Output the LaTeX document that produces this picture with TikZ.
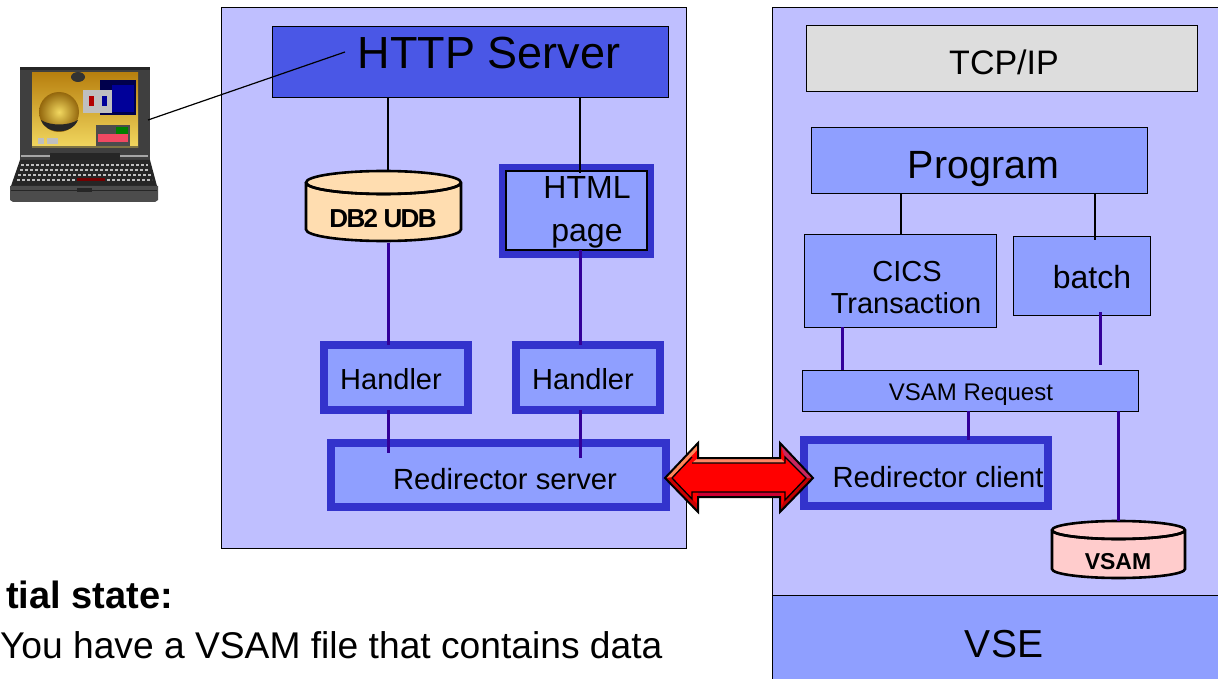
\documentclass[tikz,border=0pt]{standalone}
\usepackage{fontspec}
\usetikzlibrary{calc}
\setmainfont{Liberation Sans}
\definecolor{panel}{HTML}{BFBFFF}
\definecolor{mid}{HTML}{8F9FFF}
\definecolor{thickc}{HTML}{3333CC}
\definecolor{httpc}{HTML}{4A57E6}
\definecolor{graybox}{HTML}{DDDDDD}
\definecolor{linkc}{HTML}{330099}
\definecolor{dbc}{HTML}{FFDDB0}
\definecolor{vsamc}{HTML}{FFCCCC}
\definecolor{lapd}{HTML}{3F3F3F}
\definecolor{lapk}{HTML}{262626}
\definecolor{goldt}{HTML}{B8800F}
\definecolor{goldb}{HTML}{F2D860}
\tikzset{
  fs/.style={font=\fontsize{#1}{#1}\selectfont},
  txt/.style={anchor=base,inner sep=0pt,outer sep=0pt,text=black},
  plain/.style={rectangle,draw=black,line width=1pt,inner sep=0pt,outer sep=0pt},
  bluebox/.style={plain,fill=mid},
  bframe/.style={rectangle,draw=thickc,line width=8pt,fill=mid,inner sep=0pt,outer sep=0pt},
  thin link/.style={draw=black,line width=1.2pt},
  heavy link/.style={draw=linkc,line width=3pt},
  hidden/.style={rectangle,inner sep=0pt,outer sep=0pt},
  drum/.style={draw=black,line width=2.6pt},
}
\newcommand\bx[6]{%
  \pgfmathsetmacro\bxw{#5-#3}\pgfmathsetmacro\bxh{#6-#4}%
  \pgfmathsetmacro\bxx{(#5+#3)/2}\pgfmathsetmacro\bxy{(#6+#4)/2}%
  \node[#2,minimum width=\bxw pt,minimum height=\bxh pt] (#1) at (\bxx,\bxy) {};}
\newcommand\drumshape[6]{% x1 ytop x2 ybot ry fill
  \pgfmathsetmacro\drx{(#3-#1)/2}%
  \pgfmathsetmacro\dyc{#2+#5}\pgfmathsetmacro\dyb{#4-#5}%
  \draw[drum,fill=#6] (#1,\dyc) -- (#1,\dyb) arc[start angle=180,end angle=360,x radius=\drx,y radius=-#5] -- (#3,\dyc) arc[start angle=0,end angle=360,x radius=\drx,y radius=-#5];
  \draw[drum] (#1,\dyc) arc[start angle=180,end angle=360,x radius=\drx,y radius=-#5];}
\begin{document}
\begin{tikzpicture}[x=1pt,y=-1pt]
\useasboundingbox (0,0) rectangle (1218,679);
\fill[white] (0,0) rectangle (1218,679);
% panels
\bx{left}{plain,fill=panel}{221}{8}{686}{548}
\bx{right}{plain,fill=panel}{772}{8}{1219}{596}
\bx{vse}{bluebox}{772}{595}{1219}{680}
% left panel
\bx{http}{plain,fill=httpc}{272}{27}{668}{98}
\bx{html}{bframe}{503}{168}{650}{254}
\draw[black,line width=1.4pt] ($(html.north west)+(3,3)$) rectangle ($(html.south east)+(-3,-4)$);
\bx{hone}{bframe}{324}{345}{468}{410}
\bx{htwo}{bframe}{516}{345}{660}{410}
\bx{rserver}{bframe}{331}{443}{666}{507}
\bx{db}{hidden}{306}{171}{461}{243}
\drumshape{306}{171}{461}{241}{11.5}{dbc}
% right panel
\bx{tcp}{plain,fill=graybox}{806}{26}{1197}{92}
\bx{prog}{bluebox}{811}{128}{1147}{194}
\bx{cics}{bluebox}{804}{235}{996}{327}
\bx{batch}{bluebox}{1013}{237}{1150}{315}
\bx{vreq}{bluebox}{802}{370}{1138}{411}
\bx{rclient}{bframe}{804}{440}{1048}{506}
\bx{vsam}{hidden}{1052}{521}{1185}{578}
\drumshape{1052}{521}{1185}{578}{9}{vsamc}
% connector columns
\coordinate (ca) at (388,0); \coordinate (cb) at (580,0);
\coordinate (cc) at (901,0); \coordinate (cd) at (1095,0);
\coordinate (ce) at (842,0); \coordinate (cf) at (1100,0);
\coordinate (cg) at (968,0); \coordinate (ch) at (1118,0);
\coordinate (lapend) at (148,120); \coordinate (httpend) at (345,52);
\coordinate (htmltop) at (580,173); \coordinate (htmlbot) at (580,250);
\coordinate (srvend) at (580,458); \coordinate (srvenda) at (388,453);
\coordinate (batchend) at (1100,312); \coordinate (reqend) at (1100,365);
\coordinate (batchtop) at (1095,240);
\path[thin link] (http.south -| ca) edge (db.north -| ca);
\path[thin link] (http.south -| cb) edge (htmltop);
\path[thin link] (prog.south -| cc) edge (cics.north -| cc);
\path[thin link] (prog.south -| cd) edge (batchtop);
\path[heavy link] (db.south -| ca) edge (hone.north -| ca);
\path[heavy link] (htmlbot) edge (htwo.north -| cb);
\path[heavy link] (hone.south -| ca) edge (srvenda);
\path[heavy link] (htwo.south -| cb) edge (srvend);
\path[heavy link] (cics.south -| ce) edge (vreq.north -| ce);
\path[heavy link] (batchend) edge (reqend);
\path[heavy link] (vreq.south -| cg) edge (rclient.north -| cg);
\path[heavy link] (vreq.south -| ch) edge (vsam.north -| ch);
% texts
\node[txt,fs=45] (thttp) at (489,69) {HTTP Server};
\node[txt,fs=34] (ttcp) at (1004,75) {TCP/IP};
\node[txt,fs=39.4] (tprog) at (983.5,179) {Program};
\node[txt,fs=39] (tvse) at (1004,657) {VSE};
\node[txt,fs=32] (thtml) at (587,199) {HTML};
\node[txt,fs=32] (tpage) at (587,241) {page};
\node[txt,fs=29] (thone) at (391,389) {Handler};
\node[txt,fs=29] (thtwo) at (583,389) {Handler};
\node[txt,fs=29.2] (tsrv) at (505,489) {Redirector server};
\node[txt,fs=29.2] (tcli) at (938,487) {Redirector client};
\node[txt,fs=29] (tcics) at (907,281) {CICS};
\node[txt,fs=29] (ttrans) at (906,313) {Transaction};
\node[txt,fs=32] (tbatch) at (1092,288) {batch};
\node[txt,fs=24] (treq) at (971,400) {VSAM Request};
\node[txt,font=\fontsize{23}{23}\selectfont\bfseries] (tvsam) at (1118,569) {VSAM};
\node[txt,font=\fontsize{26}{26}\selectfont\bfseries\addfontfeature{LetterSpace=-6.5}] (tdb) at (383,228) {DB2 UDB};
\node[txt,anchor=base west,font=\fontsize{38}{38}\selectfont\bfseries] (tstate) at (6,608) {tial state:};
\node[txt,anchor=base west,fs=37.2] (tyou) at (0,658) {You have a VSAM file that contains data};
% laptop
\fill[lapd] (20,67) rectangle (150,160);
\fill[lapk] (20,67) rectangle (150,70);
\fill[top color=goldt,bottom color=goldb] (32,73) rectangle (138,148);
\fill[black!80,opacity=.6] (32,146) rectangle (138,148);
\shade[inner color=goldb,outer color=goldt!80!black] (59,112) circle (20);
\fill[black!85] (41,120) .. controls (50,126) and (68,126) .. (78,120) .. controls (72,135) and (46,135) .. (41,120);
\fill[black!70!blue] (100,80) rectangle (136,115);
\fill[blue!60!black] (112,85) rectangle (134,112);
\fill[gray!50] (83,90) rectangle (112,113);
\fill[red!70!black] (89,96) rectangle (94,106);\fill[blue!60!black] (102,96) rectangle (107,106);
\fill[black!70] (96,125) rectangle (130,146);
\fill[magenta!50!orange] (98,134) rectangle (128,142);
\fill[green!50!black] (116,127) rectangle (128,134);
\fill[gray!50] (38,138) rectangle (44,144);\fill[gray!50] (47,138) rectangle (58,144);
\fill[black!80] (78,77) ellipse (7 and 5);
\fill[gray!70] (21,155) rectangle (50,157);\fill[gray!70] (120,155) rectangle (148,157);
\fill[lapk] (50,153) rectangle (120,160);
\fill[lapk] (20,160) -- (150,160) -- (157,186) -- (11,186) -- cycle;
\foreach \yy/\xa/\xb in {165/21/148,170/20/149,175/18/151,180/17/152}
  \draw[gray!50,line width=1.6pt,dash pattern=on 3pt off 2pt] (\xa,\yy) -- (\xb,\yy);
\fill[red!45!black] (77,178) rectangle (105,181);
\fill[black!70] (10,186) -- (158,186) -- (158,200) -- (155,202) -- (13,202) -- (10,200) -- cycle;
\fill[lapk] (77,188) rectangle (92,192);
\draw[lapk,line width=.8pt] (11,190) -- (157,190);
% link laptop - server
\path[thin link] (lapend) edge (httpend);
% double arrow
\coordinate (atl) at (665,478); \coordinate (atr) at (813,478);
\fill[red] (atl) -- (698,443) -- (698,458) -- (780,458) -- (780,443) -- (atr) -- (780,512) -- (780,497) -- (698,497) -- (698,512) -- cycle;
\fill[red!80!black] (atl) -- (698,512) -- (698,505) -- (672,478) -- cycle;
\fill[red!80!blue] (698,497) rectangle (780,492);
\fill[red!75!black] (780,512) -- (atr) -- (806,478) -- (785,500) -- (785,497) -- cycle;
\fill[orange!50!white!70!red] (atl) -- (698,443) -- (698,449) -- (672,477) -- cycle;
\fill[orange!40!red!60!white] (698,458) -- (780,458) -- (785,463) -- (692,463) -- cycle;
\fill[red!75!blue!85] (780,443) -- (atr) -- (806,478) -- (785,458) -- cycle;
\draw[black,line width=1.3pt] (672,478) -- (692,457) (692,463) -- (785,463) -- (785,457) -- (806,478) -- (785,500) -- (785,492) -- (692,492) -- (692,499) -- (672,478);
\draw[black,line width=2pt,line join=miter] (atl) -- (698,443) -- (698,458) -- (780,458) -- (780,443) -- (atr) -- (780,512) -- (780,497) -- (698,497) -- (698,512) -- cycle;
\end{tikzpicture}
\end{document}
